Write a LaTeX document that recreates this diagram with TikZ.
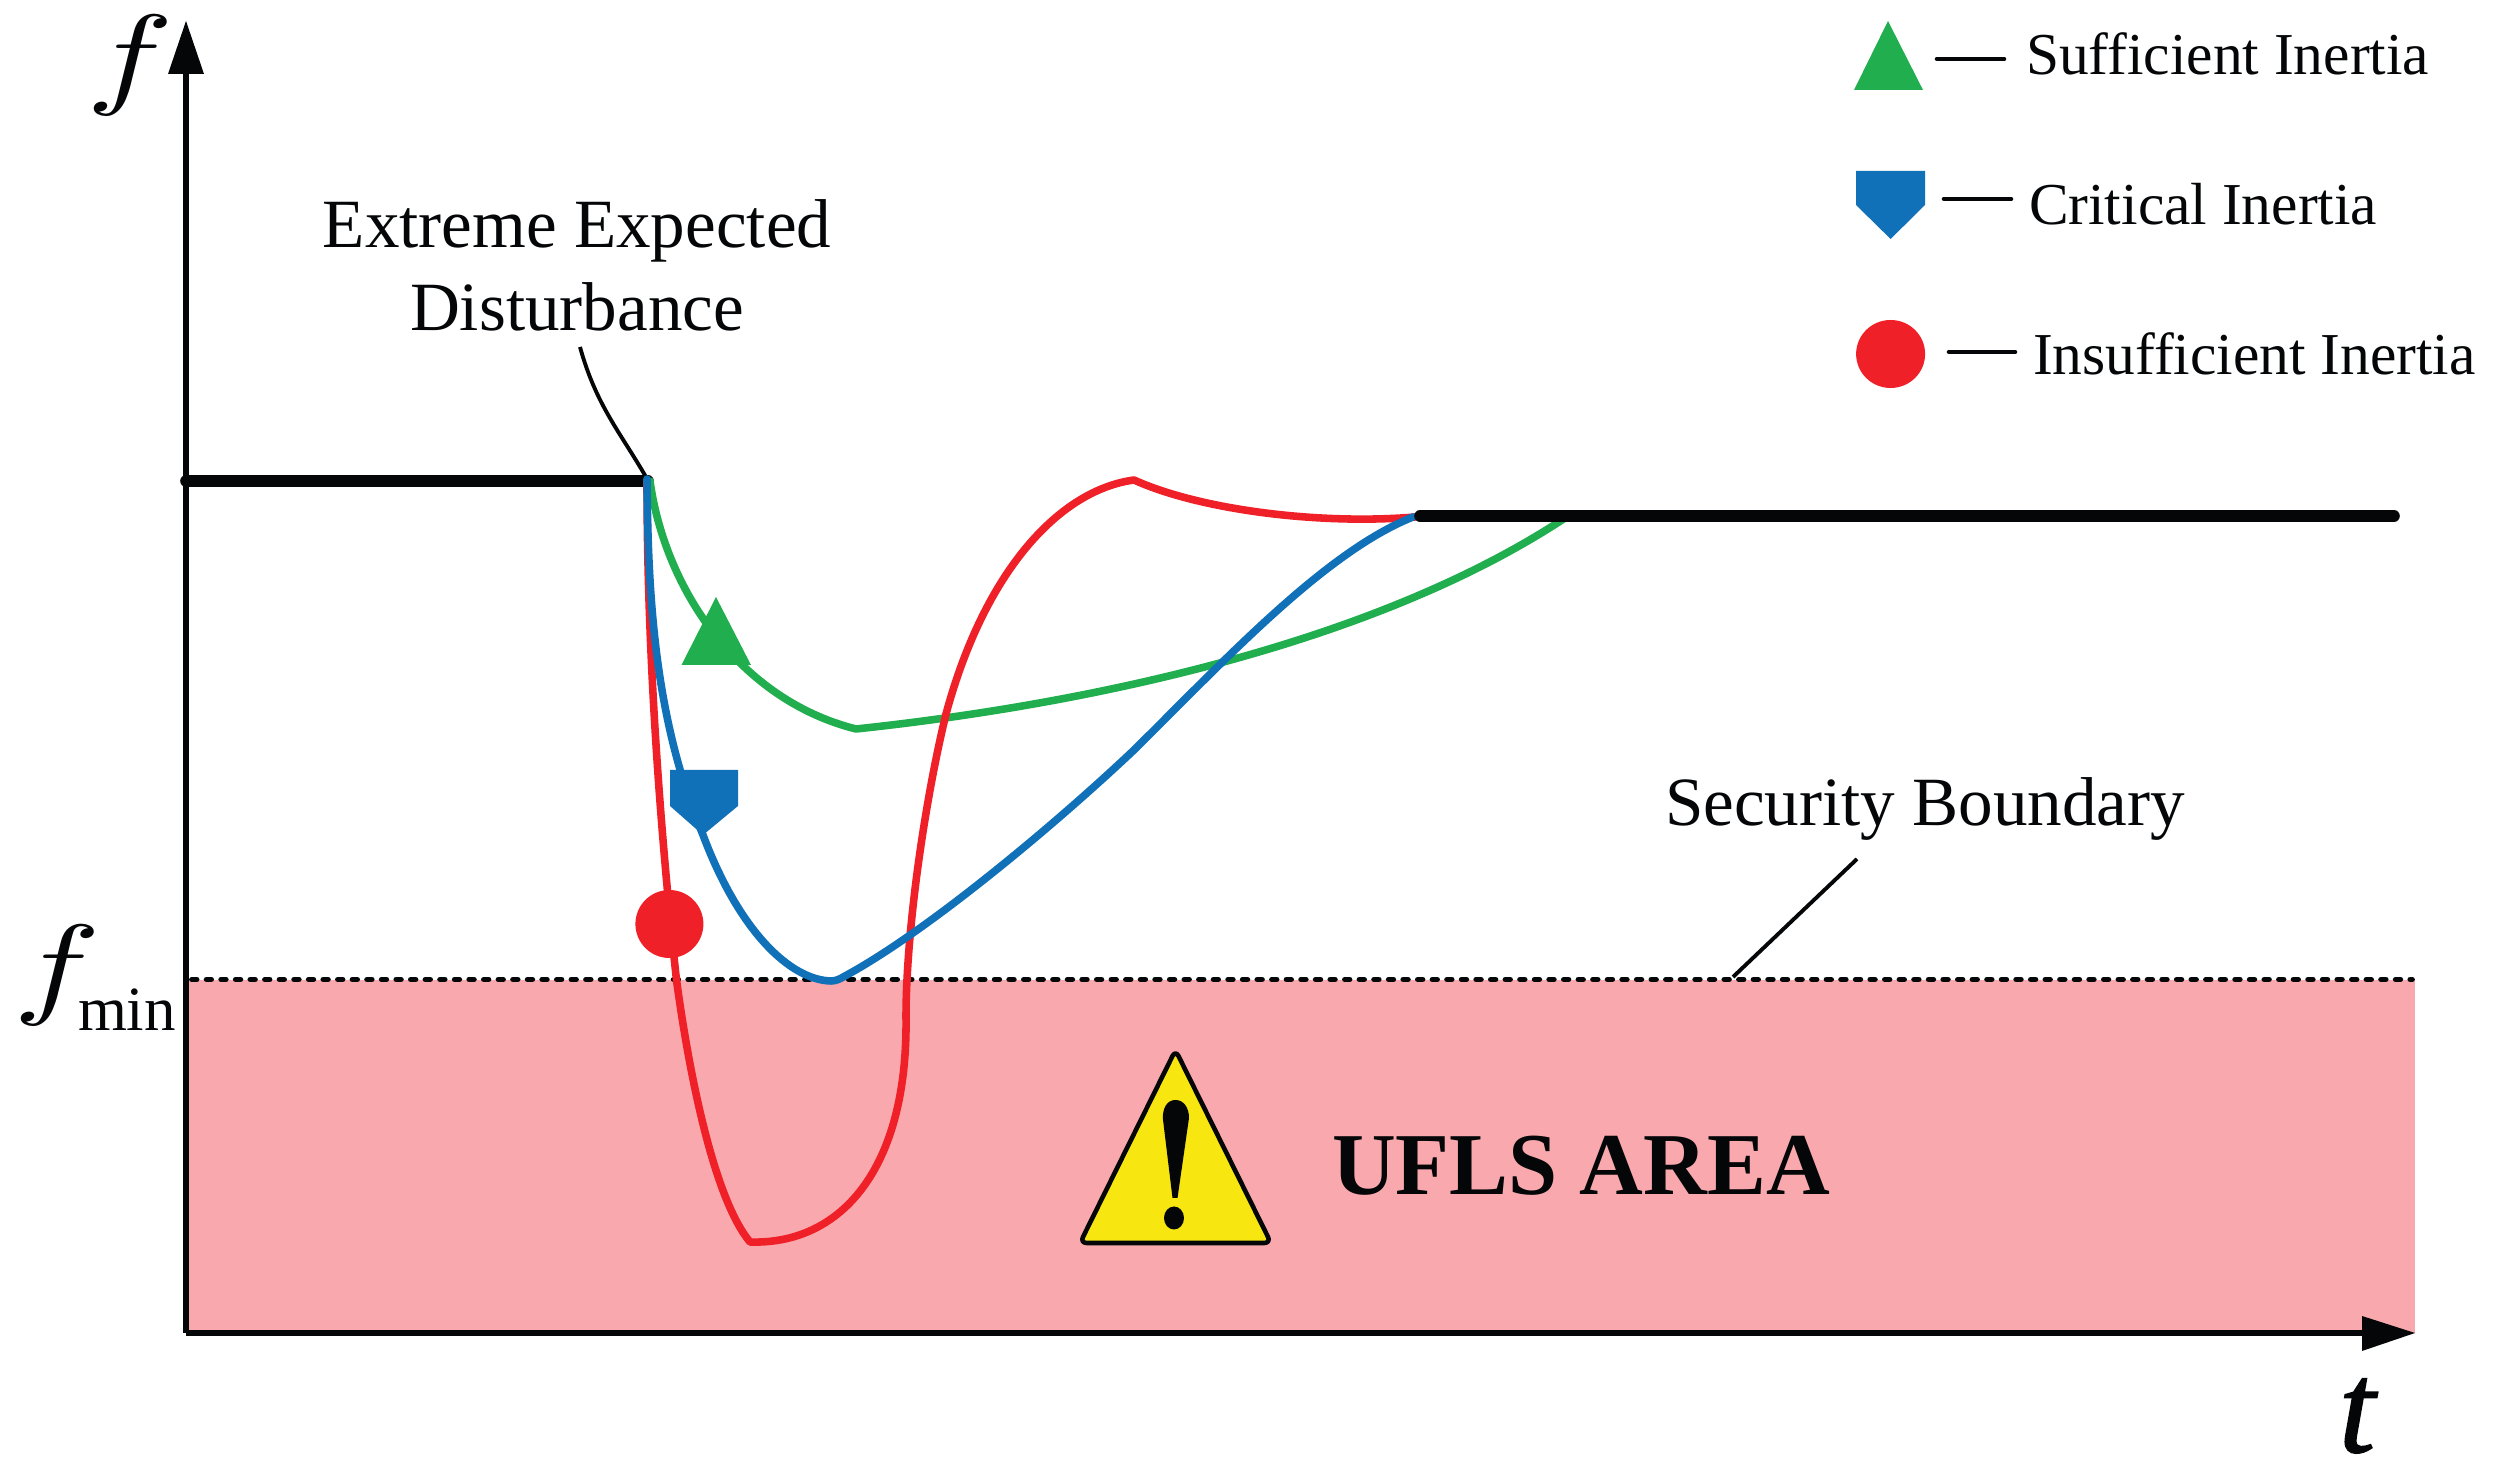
\documentclass[tikz,border=0pt]{standalone}
\usepackage{fontspec}
\setmainfont[Ligatures=NoCommon]{Liberation Serif}
\newfontfamily\tfont[FakeBold=1.2]{Liberation Serif Italic}
\definecolor{cgreen}{HTML}{20AE4E}
\definecolor{cblue}{HTML}{1070B8}
\definecolor{cred}{HTML}{EF2027}
\definecolor{cpink}{HTML}{F9A9AD}
\definecolor{cyellow}{HTML}{F8E610}
\definecolor{cblack}{HTML}{040608}
\newcommand{\fs}[1]{\fontsize{#1}{#1}\selectfont}
\font\symfont=cmmi10 at 32pt
\tikzset{
  txt/.style={inner sep=0pt,outer sep=0pt,text=cblack,anchor=base west},
  big/.style={txt,font=\fs{19.65pt}},
  leg/.style={txt,font=\fs{16.9pt}},
  sym/.style={txt,font=\symfont},
  axis/.style={draw=cblack,line width=1.71pt},
  thick line/.style={draw=cblack,line width=3.3pt,line cap=round},
  curve/.style={line width=2.15pt,line join=round,line cap=round},
  leader/.style={draw=cblack,line width=1.1pt},
  legline/.style={draw=cblack,line width=1.3pt,line cap=round},
}
\begin{document}
\begin{tikzpicture}[x=0.01cm,y=-0.01cm]
\useasboundingbox (0,0) rectangle (2493,1471);
% area
\fill[cpink] (189,980) rectangle (2415,1333);
\draw[cblack,line width=1.65pt,line cap=round,dash pattern=on 1.3pt off 2.85pt] (192,979.5) -- (2412,979.5);
% axes
\draw[axis] (186,1333) -- (186,70);
\fill[cblack] (186,21) -- (204,74) -- (168,74) -- cycle;
\draw[axis] (186,1333) -- (2365,1333);
\fill[cblack] (2415,1333) -- (2362,1351) -- (2362,1316) -- cycle;
% pre-disturbance level
\draw[thick line] (186,481) -- (648,481);
% leaders
\draw[leader] (580,347) .. controls (596,405) and (620,432) .. (646,477);
\draw[leader] (1857,859) -- (1733,977);
% curves
\draw[cgreen,curve] (650,481) .. controls (665,590) and (740,700) .. (856,729)
  .. controls (1100,703) and (1380,640) .. (1565,518);
\draw[cred,curve] (647,481) .. controls (647,650) and (660,830) .. (676.5,980)
  .. controls (690,1080) and (715,1200) .. (750,1242)
  .. controls (840,1245) and (908,1170) .. (906,1017)
  .. controls (906,930) and (925,800) .. (946,714)
  .. controls (985,570) and (1060,490) .. (1134,480)
  .. controls (1200,510) and (1320,525) .. (1415,517);
\draw[cblue,curve] (647,479) .. controls (648,600) and (655,720) .. (703,835)
  .. controls (739,931) and (790,980) .. (831,981)
  .. controls (836,981) and (840,979) .. (845,976)
  .. controls (930,930) and (1060,820) .. (1134,750)
  .. controls (1225,660) and (1325,552) .. (1413,517);
% post-disturbance level
\draw[thick line] (1420,516) -- (2394,516);
% markers on curves
\fill[cgreen] (716,597) -- (751,665) -- (681.5,665) -- cycle;
\fill[cblue] (670,770) -- (738,770) -- (738,806) -- (703,835) -- (670,806) -- cycle;
\fill[cred] (669.4,924) circle[x radius=34,y radius=34];
% warning sign
\draw[cblack,fill=cyellow,line width=1.3pt,rounded corners=1.9pt,line join=round] (1175.5,1050) -- (1271,1243) -- (1080,1243) -- cycle;
\fill[cblack] (1175.5,1100) .. controls (1184,1100) and (1189,1108) .. (1189,1118) -- (1177.5,1198) -- (1172.5,1198) -- (1162.8,1118) .. controls (1162.8,1108) and (1167,1100) .. (1175.5,1100) -- cycle;
\fill[cblack] (1174,1218) circle[x radius=10,y radius=11.5];
% legend
\fill[cgreen] (1888,21) -- (1923,90) -- (1854,90) -- cycle;
\fill[cblue] (1856,171) -- (1925,171) -- (1925,205) -- (1890.6,239) -- (1856,205) -- cycle;
\fill[cred] (1890.6,354) circle[x radius=34.5,y radius=34];
\coordinate (l1a) at (1937,59);
\coordinate (l1b) at (2004,59);
\coordinate (l2a) at (1944,199);
\coordinate (l2b) at (2011,199);
\coordinate (l3a) at (1949,352);
\coordinate (l3b) at (2015,352);
\draw[legline] (l1a) -- (l1b);
\draw[legline] (l2a) -- (l2b);
\draw[legline] (l3a) -- (l3b);
% text
\node[leg] (lg1) at (2026,74.5) {Sufficient Inertia};
\node[leg] (lg2) at (2029,224.5) {Critical Inertia};
\node[leg] (lg3) at (2033,375) {Insufficient Inertia};
\node[big,anchor=base] (ee1) at (577,248) {Extreme Expected};
\node[big,anchor=base] (ee2) at (577,331) {Disturbance};
\node[big] (sb) at (1665,826) {Security Boundary};
\node[txt,font=\fs{25.1pt}\bfseries] (ufls) at (1332,1195) {UFLS AREA};
\node[sym] (fy) at (86,94) {\scalebox{1.3}[1]{f}};
\node[sym] (fm) at (14,1004) {\scalebox{1.3}[1]{f}};
\node[txt,font=\fs{17.9pt}] (fmin) at (78,1031) {min};
\node[txt,font=\fs{37pt}\tfont] (tx) at (2339,1452) {t};
\end{tikzpicture}
\end{document}
